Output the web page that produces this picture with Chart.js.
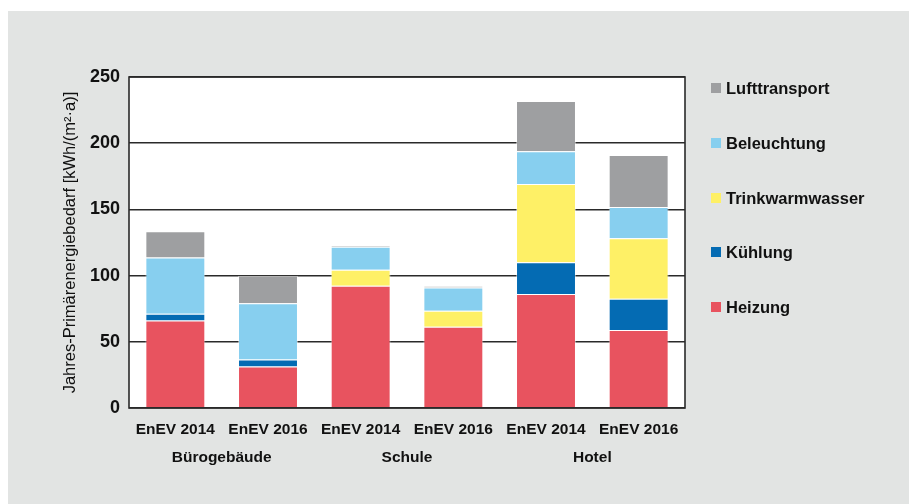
<!DOCTYPE html>
<html>
<head>
<meta charset="utf-8">
<script src="https://cdn.jsdelivr.net/npm/chart.js@4/dist/chart.umd.min.js"></script>
<style>
  html, body { margin: 0; padding: 0; background: #fff; }
  #wrap { width: 909px; height: 504px; position: relative; }
</style>
</head>
<body>
<div id="wrap"><canvas id="myChart" width="909" height="504"></canvas></div>
<script>
const categories = ["EnEV 2014", "EnEV 2016", "EnEV 2014", "EnEV 2016", "EnEV 2014", "EnEV 2016"];
const groups = ["Bürogebäude", "Schule", "Hotel"];

const heizung = [66, 31.3, 92.3, 61.4, 86.1, 59];
const kuehlung = [5.2, 5.3, 0, 0, 23.9, 23.5];
const trinkwarmwasser = [0, 0, 12.1, 12.1, 59.1, 45.7];
const beleuchtung = [42.5, 42.5, 17.3, 17.6, 24.9, 23.6];
const lufttransport = [19.8, 20.8, 1, 0.8, 37.9, 39.2];

const yTicks = [0, 50, 100, 150, 200, 250];

const FONT = "'Liberation Sans', Arial, sans-serif";
const TEXT = "#111";

// grey panel, white plot area and frame
const backdrop = {
  id: "backdrop",
  beforeDraw(chart) {
    const { ctx, chartArea: a } = chart;
    ctx.save();
    ctx.fillStyle = "#fff";
    ctx.fillRect(0, 0, chart.width, chart.height);
    ctx.fillStyle = "#e2e4e3";
    ctx.fillRect(8, 11, chart.width - 8, chart.height - 11);
    ctx.fillStyle = "#fff";
    ctx.fillRect(a.left, a.top, a.right - a.left, a.bottom - a.top);
    ctx.restore();
  },
  afterDraw(chart) {
    const { ctx, chartArea: a } = chart;
    ctx.save();
    ctx.strokeStyle = "#2a2a2a";
    ctx.lineWidth = 1.6;
    ctx.strokeRect(a.left, a.top, a.right - a.left, a.bottom - a.top);
    ctx.restore();
  }
};

// building names under each pair of bars
const groupLabels = {
  id: "groupLabels",
  afterDraw(chart) {
    const { ctx } = chart;
    const x = chart.scales.x;
    ctx.save();
    ctx.font = "bold 15.5px " + FONT;
    ctx.fillStyle = TEXT;
    ctx.textAlign = "center";
    ctx.textBaseline = "middle";
    groups.forEach((g, i) => {
      const cx = (x.getPixelForValue(i * 2) + x.getPixelForValue(i * 2 + 1)) / 2;
      ctx.fillText(g, cx, 458);
    });
    ctx.restore();
  }
};

// legend on the right, top item = top of stack
const sideLegend = {
  id: "sideLegend",
  afterDraw(chart) {
    const { ctx } = chart;
    const sets = chart.data.datasets.slice().reverse();
    const rows = [88, 143, 198, 252, 307];
    ctx.save();
    ctx.font = "bold 16.5px " + FONT;
    ctx.textBaseline = "middle";
    sets.forEach((ds, i) => {
      ctx.fillStyle = ds.backgroundColor;
      ctx.fillRect(711, rows[i] - 5, 10, 10);
      ctx.fillStyle = TEXT;
      ctx.fillText(ds.label, 726, rows[i] + 1);
    });
    ctx.restore();
  }
};

function series(label, data, color) {
  return {
    label: label,
    data: data,
    backgroundColor: color,
    borderColor: "rgba(255,255,255,0.45)",
    borderWidth: 1,
    categoryPercentage: 0.647,
    barPercentage: 1
  };
}

new Chart(document.getElementById("myChart"), {
  type: "bar",
  data: {
    labels: categories,
    datasets: [
      series("Heizung", heizung, "#e8535f"),
      series("Kühlung", kuehlung, "#046bb3"),
      series("Trinkwarmwasser", trinkwarmwasser, "#fef066"),
      series("Beleuchtung", beleuchtung, "#87cfef"),
      series("Lufttransport", lufttransport, "#9e9fa1")
    ]
  },
  options: {
    responsive: false,
    animation: false,
    layout: { padding: { left: 0, right: 224, top: 77, bottom: 0 } },
    plugins: {
      legend: { display: false },
      tooltip: { enabled: false }
    },
    scales: {
      x: {
        stacked: true,
        afterFit(scale) { scale.height = 96; },
        grid: { display: false, drawTicks: false },
        border: { display: false },
        ticks: {
          padding: 12,
          color: TEXT,
          font: { family: FONT, size: 15.5, weight: "bold" },
          maxRotation: 0
        }
      },
      y: {
        stacked: true,
        min: 0,
        max: 250,
        afterFit(scale) { scale.width = 129; },
        afterBuildTicks(scale) { scale.ticks = yTicks.map(v => ({ value: v })); },
        grid: { color: "#2a2a2a", lineWidth: 1.6, drawTicks: false },
        border: { display: false },
        ticks: {
          padding: 9,
          color: TEXT,
          font: { family: FONT, size: 18, weight: "bold" }
        },
        title: {
          display: true,
          text: "Jahres-Primärenergiebedarf [kWh/(m²·a)]",
          color: TEXT,
          padding: { top: 61, bottom: 0 },
          font: { family: FONT, size: 16.5, weight: "normal" }
        }
      }
    }
  },
  plugins: [backdrop, groupLabels, sideLegend]
});
</script>
</body>
</html>
